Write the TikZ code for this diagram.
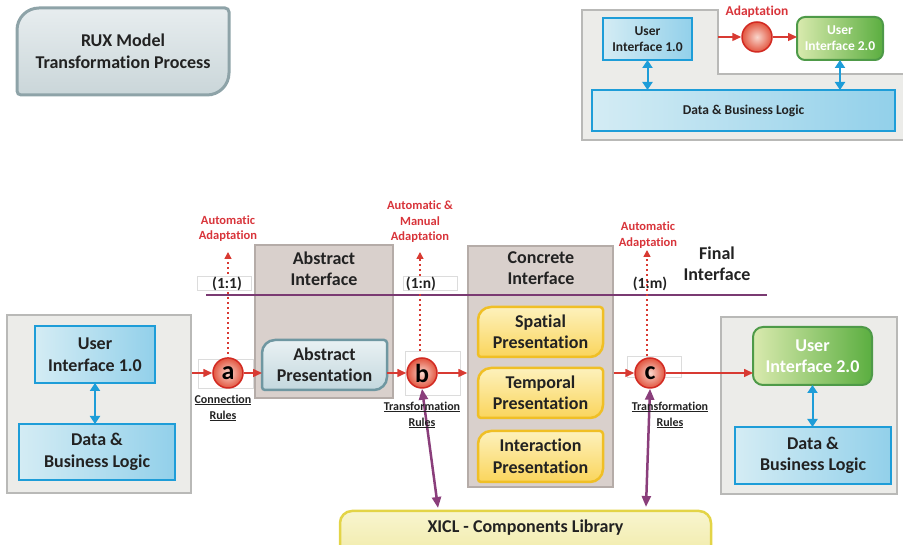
\documentclass[tikz,border=0pt]{standalone}
\usepackage{fontspec}
\setmainfont{Carlito}[Ligatures=NoCommon]
\usetikzlibrary{arrows.meta,calc}
\pgfdeclarelayer{panels}
\pgfdeclarelayer{shapes}
\pgfsetlayers{panels,shapes,main}

\definecolor{txtdark}{HTML}{222222}
\definecolor{redtxt}{HTML}{D8343A}
\definecolor{redline}{HTML}{D83A32}
\definecolor{redring}{HTML}{D22A22}
\definecolor{redin}{HTML}{F9D6CC}
\definecolor{redout}{HTML}{E2553F}
\definecolor{uiblue}{HTML}{1E9DD8}
\definecolor{bluel}{HTML}{D4ECF4}
\definecolor{blued}{HTML}{92D0EA}
\definecolor{greenb}{HTML}{4E9A48}
\definecolor{greenl}{HTML}{D9EAAE}
\definecolor{greend}{HTML}{5BAE40}
\definecolor{yelb}{HTML}{F0BF25}
\definecolor{yell}{HTML}{FDF1BC}
\definecolor{yeld}{HTML}{FAD55C}
\definecolor{panelfill}{HTML}{ECECE9}
\definecolor{panelline}{HTML}{B9B9B7}
\definecolor{layerfill}{HTML}{D9D0CC}
\definecolor{layerline}{HTML}{B5ACA8}
\definecolor{ruxline}{HTML}{8EA3A8}
\definecolor{ruxl}{HTML}{E7EDEF}
\definecolor{ruxd}{HTML}{CAD6D9}
\definecolor{absline}{HTML}{6F97A1}
\definecolor{absl}{HTML}{E9F1F3}
\definecolor{absd}{HTML}{C3D8DE}
\definecolor{xiclline}{HTML}{E3D447}
\definecolor{xicll}{HTML}{F8F5CF}
\definecolor{xicld}{HTML}{F0E9A2}
\definecolor{purp}{HTML}{8A3E7B}
\definecolor{purpline}{HTML}{7A3A72}
\definecolor{faint}{HTML}{DCDCDC}

% outline with big rounded top-left / bottom-right corners and small other corners
\newcommand\leafpath[3]{($(#1.north west)+(0,-#2)$) arc[start angle=180,end angle=90,radius=#2] -- ($(#1.north east)+(-#3,0)$) arc[start angle=90,end angle=0,radius=#3] -- ($(#1.south east)+(0,#2)$) arc[start angle=0,end angle=-90,radius=#2] -- ($(#1.south west)+(#3,0)$) arc[start angle=270,end angle=180,radius=#3] -- cycle}

\tikzset{
  title/.style={font=\bfseries\fontsize{18}{21.5}\selectfont, text=txtdark, align=center},
  smalltxt/.style={font=\bfseries\fontsize{13.5}{16}\selectfont, text=txtdark, align=center},
  redlbl/.style={font=\bfseries\fontsize{12.5}{15.5}\selectfont, text=redtxt, align=center},
  rulelbl/.style={font=\bfseries\fontsize{12}{16}\selectfont, text=txtdark, align=center},
  ratio/.style={font=\bfseries\fontsize{15.5}{18}\selectfont, text=txtdark},
  bluebox/.style={rectangle, draw=uiblue, line width=2, left color=bluel, right color=blued, inner sep=0, outer sep=0},
  greenbox/.style={rectangle, rounded corners=10, draw=greenb, line width=2, left color=greenl, right color=greend, inner sep=0, outer sep=0},
  panel/.style={draw=panelline, fill=panelfill, line width=1.5, inner sep=0},
  layerbox/.style={draw=layerline, fill=layerfill, line width=1.5, inner sep=0},
  leafnode/.style={rectangle, inner sep=0, outer sep=0},
  yellowleaf/.style={draw=yelb, line width=2.5, top color=yell, bottom color=yeld},
  adapt/.style={circle, minimum size=30, inner sep=0, draw=redring, line width=1.5, inner color=redin, outer color=redout, font=\bfseries\fontsize{26}{26}\selectfont, text=black},
  redarrow/.style={draw=redline, line width=1.5, -{Triangle[length=9pt,width=8pt]}},
  dotarrow/.style={draw=redline, line width=1.5, dash pattern=on 1.5pt off 3.5pt, -{Triangle[length=7pt,width=7pt]}},
  bluearrow/.style={draw=uiblue, line width=2, {Triangle[length=8pt,width=10pt]}-{Triangle[length=8pt,width=10pt]}},
  purparrow/.style={draw=purp, line width=2.5, {Triangle[length=11pt,width=9pt]}-{Triangle[length=11pt,width=9pt]}},
  faintbox/.style={draw=faint, line width=0.8, fill=white, inner sep=0},
}

\begin{document}
\begin{tikzpicture}[x=1pt,y=1pt]
\useasboundingbox (0,0) rectangle (903,545);
\clip (0,0) rectangle (903,545);

% ---------- title card ----------
\node[leafnode, title, minimum width=212, minimum height=87] (rux) at (123,493.5) {RUX Model\\Transformation Process};
\begin{pgfonlayer}{shapes}
\draw[draw=ruxline, line width=3, top color=ruxl, bottom color=ruxd] \leafpath{rux}{22}{4};
\end{pgfonlayer}

% ---------- overview (top right) ----------
\begin{pgfonlayer}{panels}
\draw[panel] (582,535) -- (718,535) -- (718,471) -- (908,471) -- (908,405) -- (582,405) -- cycle;
\end{pgfonlayer}
\coordinate (notch) at (718,508);
\node[bluebox, smalltxt, minimum width=89, minimum height=42] (ui1s) at (647.5,506) {User\\Interface 1.0};
\node[adapt] (ad) at (757,508) {};
\node[redlbl, font=\bfseries\fontsize{13.5}{16}\selectfont] (adlbl) at (757,533) {Adaptation};
\node[greenbox, smalltxt, text=white, rounded corners=8, minimum width=86, minimum height=43] (ui2s) at (840,506.5) {User\\Interface 2.0};
\node[bluebox, smalltxt, minimum width=303, minimum height=41] (dbs) at (743.5,434.5) {Data \& Business Logic};
\draw[redarrow] (notch) -- (ad);
\draw[redarrow] (ad) -- (ad -| ui2s.west);
\draw[bluearrow] (ui1s.south) -- (ui1s.south |- dbs.north);
\draw[bluearrow] (ui2s.south) -- (ui2s.south |- dbs.north);

% ---------- main process ----------
\begin{pgfonlayer}{panels}
\node[panel, minimum width=184, minimum height=178] (lp) at (99,141) {};
\node[panel, minimum width=176, minimum height=177] (rp) at (809,139.5) {};
\node[layerbox, minimum width=138, minimum height=153] (absi) at (324,223.5) {};
\node[layerbox, minimum width=145, minimum height=241] (conc) at (540.5,178.5) {};
\end{pgfonlayer}

\node[title] (absit) at (324,276) {Abstract\\Interface};
\node[title] (conct) at (541,277) {Concrete\\Interface};
\node[title] (fin) at (717,281) {Final\\Interface};

% level divider
\coordinate (divl) at (206,250);
\coordinate (divr) at (767,250);
\draw[purpline, line width=2] (divl) -- (divr);

% source and target systems
\node[bluebox, title, minimum width=120, minimum height=57] (ui1) at (95,190.5) {User\\Interface 1.0};
\node[bluebox, title, minimum width=156, minimum height=56] (db1) at (97,93) {Data \&\\Business Logic};
\node[greenbox, title, text=white, minimum width=119, minimum height=58] (ui2) at (812.5,189) {User\\Interface 2.0};
\node[bluebox, title, minimum width=156, minimum height=57] (db2) at (813,89.5) {Data \&\\Business Logic};
\draw[bluearrow] (ui1.south) -- (ui1.south |- db1.north);
\draw[bluearrow] (ui2.south) -- (ui2.south |- db2.north);

% presentations
\node[leafnode, title, minimum width=125, minimum height=50] (absp) at (324.5,180) {Abstract\\Presentation};
\node[leafnode, title, minimum width=125, minimum height=50] (spat) at (540.5,213) {Spatial\\Presentation};
\node[leafnode, title, minimum width=125, minimum height=50] (temp) at (540.5,152) {Temporal\\Presentation};
\node[leafnode, title, minimum width=125, minimum height=51] (inter) at (540.5,88.5) {Interaction\\Presentation};
\node[leafnode, title, minimum width=371, minimum height=34] (xicl) at (525.5,17) {XICL - Components Library};
\begin{pgfonlayer}{shapes}
\draw[draw=absline, line width=2.5, top color=absl, bottom color=absd] \leafpath{absp}{13}{3};
\foreach \n in {spat,temp,inter} \draw[yellowleaf] \leafpath{\n}{13}{3};
\draw[draw=xiclline, line width=2.5, top color=xicll, bottom color=xicld]
  ($(xicl.south west)+(0,-20)$) -- ($(xicl.north west)+(0,-12)$) arc[start angle=180,end angle=90,radius=12]
  -- ($(xicl.north east)+(-12,0)$) arc[start angle=90,end angle=0,radius=12] -- ($(xicl.south east)+(0,-20)$) -- cycle;
\end{pgfonlayer}

% transformation steps
\node[faintbox, minimum width=55, minimum height=29] (ra) at (225.5,171.5) {};
\node[faintbox, minimum width=55, minimum height=44] (rb) at (432.5,172) {};
\node[faintbox, minimum width=54, minimum height=21] (rc) at (654,178.5) {};
\node[adapt] (a) at (228,172) {a};
\node[adapt] (b) at (422,172) {b};
\node[adapt] (c) at (650,172) {c};

\draw[redarrow] (lp.east |- a) -- (a);
\draw[redarrow] (a) -- (a -| absp.west);
\draw[redarrow] (absp.east |- b) -- (b);
\draw[redarrow] (b) -- (b -| conc.west);
\draw[redarrow] (conc.east |- c) -- (c);
\draw[redarrow] (c) -- (c -| ui2.west);

% adaptation labels and their dotted links
\node[redlbl] (la) at (228,316.5) {Automatic\\Adaptation};
\node[redlbl] (lb) at (420,323) {Automatic \&\\Manual\\Adaptation};
\node[redlbl] (lc) at (648,310) {Automatic\\Adaptation};
\coordinate (ta) at (228,293);
\coordinate (tb) at (420,293);
\coordinate (tc) at (647,295);
\draw[dotarrow] (ra.north -| a) -- (ta);
\draw[dotarrow] (rb.north -| tb) -- (tb);
\draw[dotarrow] (rc.north -| tc) -- (tc);

% ratio labels (their white boxes hide the dotted links)
\node[faintbox, minimum width=54, minimum height=14] (r11box) at (224,262) {};
\node[faintbox, minimum width=54, minimum height=14] (r1nbox) at (430,262) {};
\node[ratio] (r11) at (227,261) {(1:1)};
\node[ratio] (r1n) at (421,261) {(1:n)};
\node[ratio] (r1m) at (650,261) {(1:m)};

% component library links
\draw[purparrow] (b.south) -- ($(xicl.north west)+(98,3)$);
\draw[purparrow] (c.south) -- ($(xicl.north west)+(306,4)$);

% rule labels
\node[rulelbl] (cra) at (223,137) {\underline{Connection}\\\underline{Rules}};
\node[rulelbl] (trb) at (422,130) {\underline{Transformation}\\\underline{Rules}};
\node[rulelbl] (trc) at (670,130) {\underline{Transformation}\\\underline{Rules}};
\end{tikzpicture}
\end{document}
